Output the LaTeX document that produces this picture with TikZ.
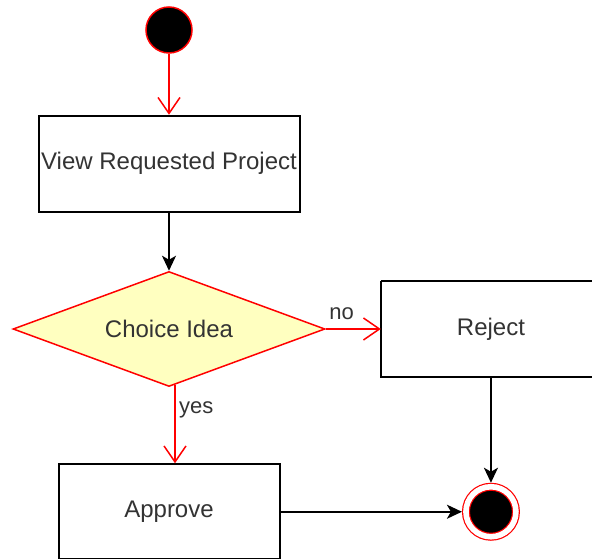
\documentclass[tikz,border=0pt]{standalone}
\usepackage{fontspec}
\setmainfont{Liberation Sans}
\usetikzlibrary{shapes.geometric}
\usetikzlibrary{positioning}
\usetikzlibrary{arrows.meta}

\begin{document}
\begin{tikzpicture}[x=1pt,y=-1pt,node distance=58pt,
	font=\fontsize{24}{28}\selectfont,
	box node/.style={rectangle,draw,line width=2pt,fill=white,text=txt,inner sep=1pt,minimum height=96pt},
	choice node/.style={diamond,draw=red,line width=1.5pt,fill=choicefill,text=txt,shape aspect=2.7,
		minimum width=312pt,minimum height=115pt,inner sep=0pt},
	start node/.style={circle,draw=red,line width=1.5pt,fill=black,minimum size=46pt,inner sep=0pt},
	end node/.style={circle,draw=red,double=white,double distance=5.6pt,line width=1.2pt,fill=black,
		minimum size=50pt,inner sep=0pt,outer sep=4pt},
	red arrow/.style={draw=red,line width=1.5pt,-{Straight Barb[length=16pt,width=22pt]}},
	black arrow/.style={draw=black,line width=2pt,-{Stealth[length=15pt,width=14pt,inset=4pt]}},
	edge label/.style={font=\fontsize{22}{26}\selectfont,text=txt}]
	
	\definecolor{txt}{RGB}{51,51,51}
	\definecolor{choicefill}{RGB}{255,255,192}
	
	\useasboundingbox (0,0) rectangle (592,559);
	
	\node[start node] (start) at (169,30) {};
	\node[box node, minimum width=261pt, below=61pt of start] (view) {View Requested Project};
	\node[choice node, below=of view] (choice) {Choice Idea};
	% reject box runs off the right edge
	\node[text=txt, inner sep=1pt, minimum width=220pt, minimum height=96pt, right=55pt of choice] (reject) {Reject};
	\draw[line width=2pt] (reject.north west) -- ([xshift=40pt]reject.north east)
		(reject.north west) -- (reject.south west) -- ([xshift=40pt]reject.south east);
	\node[box node, minimum width=221pt, minimum height=95pt, below=76pt of choice] (approve) {Approve};
	\node[end node] (end) at (reject.south |- approve.east) {};
	
	\path
	(start) edge[red arrow] (view)
	(view) edge[black arrow] (choice)
	(choice) edge[red arrow] node[edge label, above=5pt, pos=.29] {no} (reject)
	([xshift=6pt,yshift=2pt]choice.south) edge[red arrow] node[edge label, right=0pt, pos=.31] {yes} ([xshift=6pt]approve.north)
	(reject) edge[black arrow] (end)
	(approve) edge[black arrow] (end);
\end{tikzpicture}
\end{document}
